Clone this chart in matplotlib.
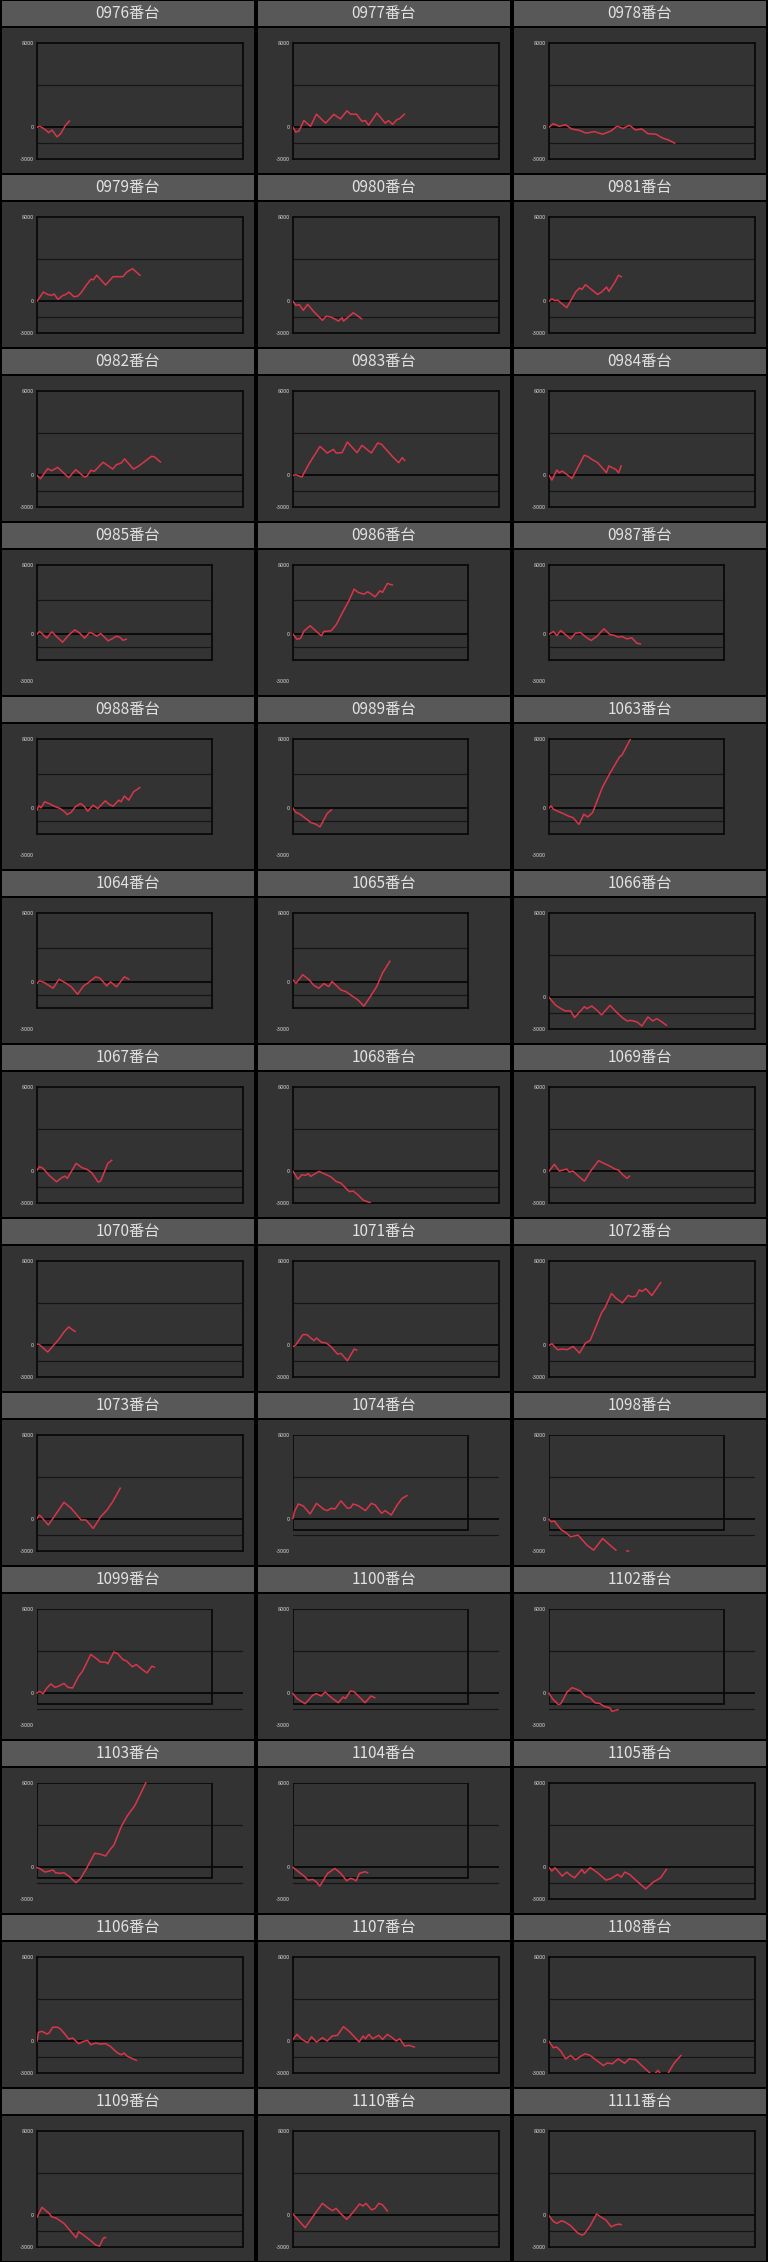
import numpy as np
import matplotlib
matplotlib.use('Agg')
import matplotlib.pyplot as plt
from matplotlib.patches import Rectangle

plt.rcParams['font.family'] = ['Noto Sans CJK JP', 'DejaVu Sans']
plt.rcParams['axes.unicode_minus'] = False

# machine numbers, in page order (3 per row)
machines = ['0976', '0977', '0978', '0979', '0980', '0981', '0982', '0983', '0984',
            '0985', '0986', '0987', '0988', '0989', '1063', '1064', '1065', '1066',
            '1067', '1068', '1069', '1070', '1071', '1072', '1073', '1074', '1098',
            '1099', '1100', '1102', '1103', '1104', '1105', '1106', '1107', '1108',
            '1109', '1110', '1111']

# how each little chart was rendered: F = normal, S = shrunk plot box, B = shrunk frame only
kinds = ['F', 'F', 'F', 'F', 'F', 'F', 'F', 'F', 'F',
         'S', 'S', 'S', 'S', 'S', 'S', 'S', 'S', 'F',
         'F', 'F', 'F', 'F', 'F', 'F', 'F', 'B', 'B',
         'B', 'B', 'B', 'B', 'B', 'F', 'F', 'F', 'F',
         'F', 'F', 'F']

# (x in % of plot width, balance)
p0976 = [(0, 0), (1.3, 100), (3.2, -100), (5.7, -500), (7.3, -250), (9.7, -900), (11.3, -650), (13.7, 150), (15.7, 600)]
p0977 = [(0, 0), (1.3, -450), (2.9, -350), (5.3, 650), (8.5, 100), (11.4, 1250), (15.8, 400), (19.8, 1230), (23, 800),
         (26.2, 1570), (27.9, 1250), (30.8, 1250), (33.5, 570), (35.1, 650), (36.7, 200), (40.7, 1350), (44.8, 400),
         (46.4, 650), (48.3, 280), (50.4, 720), (51.7, 820), (54.1, 1250)]
p0978 = [(0, 0), (2, 350), (5, 100), (8, 250), (11, -150), (15, -300), (18, -550), (22, -400), (26, -650), (30, -350),
         (33, 100), (36, -100), (39, 200), (42, -250), (45, -150), (48, -600), (52, -650), (55, -1000), (58, -1200), (61, -1500)]
p0979 = [(0, 0), (3.1, 880), (5.2, 650), (7.1, 570), (8.3, 700), (10.2, 190), (12.6, 570), (13.8, 630), (15.5, 880),
         (17.9, 440), (19.8, 500), (21.4, 820), (23.8, 1500), (26.2, 2100), (27.4, 2050), (29, 2480), (33.3, 1550),
         (36.9, 2340), (39.3, 2340), (41.7, 2340), (43.6, 2780), (46.4, 3100), (50, 2470)]
p0980 = [(0, 0), (1.4, -380), (3.1, -320), (5, -850), (7.1, -280), (10.2, -1000), (14.3, -1800), (16.2, -1400),
         (18.6, -1500), (22.1, -1870), (23.8, -1550), (24.5, -1870), (29.3, -1080), (33.3, -1650)]
p0981 = [(0, 0), (1.4, 250), (2.9, 60), (4.1, 130), (8.6, -600), (12.9, 880), (14.8, 1260), (16, 1140), (17.7, 1580),
         (23.6, 660), (25.5, 880), (27.9, 1360), (29.1, 950), (32, 1830), (33.7, 2470), (35.1, 2340)]
p0982 = [(0, 0), (1.7, -320), (5.2, 640), (7.1, 440), (10, 760), (15.4, -220), (18.8, 540), (23, -160), (24.2, -100),
         (26.1, 480), (27.8, 380), (32.1, 1240), (36.8, 600), (38.5, 1010), (40.9, 1170), (42.5, 1560), (46.8, 600),
         (49.2, 860), (55.6, 1810), (57, 1750), (59.9, 1270)]
p0983 = [(0, 0), (1.4, 60), (4.3, -160), (7.8, 1100), (13.1, 2750), (16.6, 2120), (19.7, 2470), (20.9, 2120),
         (23.8, 2150), (26.4, 3160), (31.1, 2150), (33.5, 2850), (38, 2120), (41.1, 3070), (43, 2940), (48.2, 1800),
         (51.3, 1200), (53, 1680), (54.2, 1420)]
p0984 = [(0, 0), (1.4, -450), (3.8, 510), (5, 250), (6.4, 410), (11.2, -290), (17.1, 1910), (18.8, 1790), (21.2, 1470),
         (23.6, 1210), (27.9, 250), (29, 890), (30.7, 730), (32.4, 570), (33.8, 250), (35, 890)]
p0985 = [(0, 0), (1.4, 310), (2.8, 80), (5.6, -460), (8.4, 270), (11.8, -390), (14.6, -930), (18.2, -80), (21.6, 500),
         (24.4, 120), (27.2, -460), (30, 200), (31.7, 80), (34.2, -230), (36.4, 80), (40.6, -770), (42.9, -540),
         (45.4, -230), (47.6, -390), (49, -700), (51, -580)]
p0986 = [(0, 0), (2.2, -580), (4.2, -500), (6.4, 390), (9.8, 970), (12.6, 460), (16.2, -190), (17.6, 310), (21.8, 390),
         (24.6, 1080), (28.8, 2700), (32.1, 3940), (34.9, 5210), (37.2, 4830), (40.5, 4630), (42.7, 4900), (44.7, 4630),
         (46.9, 4320), (49.7, 5020), (51.1, 4830), (53.9, 5870), (56.7, 5680)]
p0987 = [(0, 0), (2.5, 310), (4.5, -150), (6.7, 420), (12.3, -540), (15.1, 120), (17.9, 190), (21.6, -420), (24.1, -730),
         (27.2, -270), (31.4, 620), (34.7, -40), (37.5, -150), (39.5, -350), (41.7, -270), (44.5, -540), (47.3, -420),
         (50.1, -1040), (52.1, -1120)]
p0988 = [(0, -230), (1, 270), (2.3, 40), (4.4, 740), (7.6, 470), (10.5, 160), (13.3, -40), (16.2, -500), (17.1, -740),
         (19.4, -500), (21.9, 160), (24.8, 540), (26.7, 270), (29, -350), (32, 350), (34.7, -40), (39, 850), (41, 470),
         (43.4, 230), (46.7, 930), (48, 740), (49.9, 1400), (52.4, 930), (55.2, 1900), (58.7, 2370)]
p0989 = [(0, 0), (1.5, -470), (4, -700), (7.2, -1180), (10.1, -1650), (13, -1850), (15.4, -2160), (16.8, -1650),
         (19.6, -590), (21.9, -200)]
p1063 = [(0, 0), (1.1, 270), (2.5, -120), (5.3, -390), (8.1, -620), (10.9, -900), (13.7, -1090), (17.1, -1875),
         (19.9, -700), (22.1, -1020), (24.9, -510), (30.5, 2420), (34.7, 4000), (40.3, 5940), (41.7, 6140), (46.5, 8000)]
p1064 = [(0, -150), (1.4, 150), (4.2, -40), (9.2, -700), (12.6, 350), (16.8, -150), (19.6, -540), (23.2, -1400),
         (26.6, -430), (29.4, -40), (33.6, 620), (35.9, 470), (39.8, -430), (42, 40), (45.4, -540), (49.9, 620), (52.4, 350)]
p1065 = [(0, 270), (1.7, -120), (5.6, 860), (9.2, 270), (12, -390), (14.8, -700), (17.6, -160), (20.4, -510), (22.3, 80),
         (27.4, -900), (30.2, -1090), (32.4, -1400), (34.4, -1680), (37.2, -2070), (40.5, -2770), (44.1, -1680),
         (47.8, -510), (51.1, 1050), (55.3, 2420)]
p1066 = [(0, 0), (3.3, -760), (6.4, -1140), (8.1, -1290), (10.5, -1290), (12.4, -1920), (15.3, -1290), (17.2, -880),
         (18.4, -1070), (20.8, -820), (23.6, -1290), (25.5, -1670), (29.6, -760), (32.7, -1390), (35.6, -1920),
         (37.9, -2240), (39.8, -2180), (42.7, -2330), (45.1, -2710), (48, -1860), (50.4, -2240), (52.3, -2020),
         (54.2, -2240), (57, -2650)]
p1067 = [(0, 100), (1.2, 450), (2.9, 290), (5.9, -380), (9.5, -990), (11.9, -610), (13.5, -450), (14.7, -670), (19, 760),
         (21.9, 350), (24.2, 190), (26.6, -130), (29.7, -1020), (30.9, -920), (34.4, 760), (36.3, 1050)]
p1068 = [(0, 0), (2.4, -740), (4.3, -320), (6, -380), (7.4, -220), (8.6, -480), (12.6, 0), (16.2, -320), (18.5, -540),
         (20.9, -960), (23.3, -1120), (25.7, -1600), (27.3, -1920), (29.2, -1860), (31.6, -2240), (34, -2720), (37.5, -2980)]
p1069 = [(0, 0), (2.6, 670), (5, 30), (6.9, 130), (8.6, 220), (9.8, -60), (11.7, 30), (14.1, -420), (17.2, -930),
         (20, -30), (24.1, 1020), (26.5, 770), (29.1, 540), (32, 220), (33.7, 130), (35.6, -290), (37.9, -670), (39.1, -450)]
p1070 = [(0, 130), (1.2, 60), (5.2, -630), (8.3, 60), (10.7, 600), (13.1, 1270), (15.4, 1750), (17.1, 1490), (18.5, 1330)]
p1071 = [(0, -130), (1.4, 60), (4.8, 1020), (6.7, 1020), (10.2, 450), (11.4, 700), (13.8, 290), (16.2, 220), (18.5, -130),
         (21.6, -830), (23.3, -760), (26.4, -1460), (29.7, -350), (30.9, -450)]
p1072 = [(0, 0), (1.4, 160), (4.1, -410), (6.5, -350), (8.8, -410), (11.7, -100), (14.8, -730), (17.7, 220), (20, 480),
         (23.2, 1970), (25.5, 3080), (27.2, 3560), (30.3, 4920), (32.7, 4440), (35.6, 4030), (38.4, 4730), (40.3, 4600),
         (42.2, 4670), (43.9, 5270), (45.1, 5110), (47, 5370), (49.9, 4730), (54.2, 5940)]
p1073 = [(0, 100), (1.2, 410), (2.4, 160), (5.5, -540), (8.3, 250), (13.1, 1620), (16.6, 1050), (21.4, -60), (23.8, -60),
         (27.3, -860), (30.9, 250), (34, 890), (36.8, 1690), (40.4, 2960)]
p1074 = [(0, 100), (0.7, 730), (2.6, 1460), (5, 1270), (8.3, 510), (11.4, 1520), (15, 950), (16.6, 830), (18.5, 1050),
         (20.4, 990), (23.3, 1750), (26.4, 1050), (28, 1110), (29.2, 1460), (31.6, 1300), (35.2, 830), (38, 1520),
         (39.9, 1370), (43, 570), (44.7, 830), (47.7, 410), (50.6, 1370), (53, 2000), (55.3, 2250)]
p1098 = [(0, 0), (1, -220), (2.6, -160), (5.7, -950), (8.1, -1240), (10.5, -1650), (14.1, -1490), (18.4, -2440),
         (21.7, -2920), (26, -1810), (29.6, -2440), (32.5, -2920), (35, np.nan), (37.8, -3000), (38.6, -3000)]
p1099 = [(0, 30), (1.2, 190), (2.9, -30), (4.8, 510), (6.7, 890), (8.8, 570), (10.7, 700), (13.1, 950), (15, 570),
         (17.3, 510), (20.2, 1620), (22.1, 2100), (26.1, 3690), (29, 3280), (30.9, 2960), (33.3, 2960), (34.4, 2800),
         (37.3, 3920), (39.2, 3760), (41.6, 3220), (43.5, 3060), (46.3, 2520), (48.2, 2740), (51.1, 2260), (53.4, 1940),
         (55.8, 2580), (57, 2480)]
p1100 = [(0, -30), (1.9, -480), (3.8, -730), (5.9, -990), (9.5, -190), (11.3, -30), (13.7, -250), (15.6, 130),
         (19.1, -480), (22, -890), (24.3, -350), (25.5, -480), (27.9, 220), (29.6, 160), (35, -890), (37.8, -250), (39.7, -410)]
p1102 = [(0, 0), (1.7, -510), (4.5, -1060), (5.7, -990), (8.8, 130), (11.2, 540), (13.5, 380), (15.2, 220), (17.6, -260),
         (20, -420), (22.3, -900), (24.7, -960), (26.6, -1220), (29.5, -1380), (30.6, -1700), (33.5, -1540)]
p1103 = [(0, -30), (1.2, -100), (4, -450), (5.9, -350), (7.8, -250), (9, -510), (11.4, -570), (13.1, -510), (15.4, -830),
         (19, -1460), (21.4, -990), (23.8, -190), (28, 1340), (30.9, 1240), (33.3, 1080), (35.6, 1720), (37.3, 2100),
         (41.1, 3950), (43.9, 4900), (47.5, 5860), (52.8, 8000)]
p1104 = [(0, 0), (3.1, -480), (5.4, -830), (7.3, -1210), (9.7, -1150), (11.3, -1370), (13, -1780), (16.8, -570),
         (20.3, -100), (23.2, -570), (26, -1270), (27.9, -1050), (29.1, -1110), (30.7, -1270), (32.2, -570), (35, -410),
         (36.2, -510)]
p1105 = [(0, -30), (1.4, -350), (2.9, -30), (6.4, -830), (8.6, -450), (10.5, -760), (12.4, -990), (16, -190), (17.2, -570),
         (20, -30), (23.2, -450), (27.7, -1210), (30.3, -1050), (33.2, -670), (35.1, -920), (36.8, -450), (39.1, -670),
         (42.7, -1310), (47, -2040), (50.6, -1400), (54.2, -990), (57, -190)]
p1106 = [(0, 0), (0.7, 850), (2.4, 950), (4.8, 700), (5.9, 790), (7.6, 1340), (10, 1340), (11.4, 1170), (13.1, 790),
         (15.4, 220), (17.3, 320), (20.2, -220), (22.6, 0), (24.5, 90), (26.1, -320), (28.5, -160), (30.4, -250),
         (33.3, -220), (35.6, -470), (37.3, -790), (39.2, -1110), (40.9, -1270), (42.3, -1110), (43.9, -1420), (48.2, -1800)]
p1107 = [(0, 190), (1.9, 670), (4.3, 190), (7.1, -130), (9, 440), (11.4, -60), (14.3, 350), (16.6, 30), (19, 510),
         (21.6, 570), (24.5, 1400), (27.6, 890), (32.1, -60), (34, 510), (35.2, 250), (36.8, 670), (38.7, 250), (41.6, 570),
         (43.5, 190), (45.8, 670), (48.2, 350), (50.1, 30), (51.8, 250), (54.2, -440), (56.5, -380), (58.9, -540)]
p1108 = [(0, 0), (2.1, -600), (3.8, -540), (5.7, -920), (8.1, -1660), (10.5, -1340), (12.9, -1750), (15.2, -1430),
         (17.6, -1180), (20, -1340), (23.1, -1810), (26.4, -2290), (28.3, -2040), (30.7, -2130), (33.6, -1660),
         (36.7, -2070), (39, -1660), (42.1, -1750), (45, -2290), (48.6, -2930), (50.5, -3250), (52.9, -2750),
         (55, -3300), (57, -3300), (58.1, -2930), (60.5, -2130), (64, -1340)]
p1109 = [(0, -190), (2.4, 760), (5.9, 190), (7.1, -130), (9.5, -280), (13.1, -760), (19, -2120), (20.2, -1550),
         (22.6, -1870), (26.1, -2400), (28.5, -2810), (30.4, -2910), (32.1, -2180), (33.3, -2090)]
p1110 = [(0, 130), (1.9, -290), (5.9, -1170), (10.2, 30), (14.3, 1140), (17.3, 670), (19.2, 440), (20.9, 670), (23.3, 130),
         (26.1, -380), (28.7, 190), (32.3, 1080), (34, 890), (35.4, 1140), (38.2, 510), (39.9, 670), (41.6, 1140),
         (43.5, 990), (45.8, 410)]
p1111 = [(0, -30), (2.1, -570), (3.8, -760), (6.2, -510), (8.1, -670), (10.5, -980), (14, -1680), (16, -1870),
         (17.1, -1780), (20, -980), (23.1, 130), (25.5, -190), (27.6, -440), (30.2, -1080), (32.4, -890), (34.3, -830),
         (35, -890)]

series = [p0976, p0977, p0978, p0979, p0980, p0981, p0982, p0983, p0984,
          p0985, p0986, p0987, p0988, p0989, p1063, p1064, p1065, p1066,
          p1067, p1068, p1069, p1070, p1071, p1072, p1073, p1074, p1098,
          p1099, p1100, p1102, p1103, p1104, p1105, p1106, p1107, p1108,
          p1109, p1110, p1111]

yticks = [-3000, 0, 8000]
ytick_labels = ['-3000', '0', '8000']
grid_y = [4000, -1500]

W, H = 768, 2262
TITLE_BG = '#585858'
BODY_BG = '#333333'
RED = '#d8364a'
LABEL = '#d4d4d4'
SW, SH = 0.85, 0.82   # size of the shrunk plot box


def fbox(x, y, w, h):
    return [x / W, 1 - (y + h) / H, w / W, h / H]


def plain(ax):
    ax.set_xticks([])
    ax.set_yticks([])
    for s in ax.spines.values():
        s.set_visible(False)


fig = plt.figure(figsize=(W / 100, H / 100), dpi=100, facecolor='black')

for i, (m, pts, kind) in enumerate(zip(machines, series, kinds)):
    r, c = divmod(i, 3)
    px = c * 256 + 2
    py = r * 174

    tax = fig.add_axes(fbox(px, py + 1, 252, 25))
    tax.set_facecolor(TITLE_BG)
    plain(tax)
    tax.text(0.5, 0.5, '%s番台' % m, ha='center', va='center', fontsize=11,
             color='#e2e2e2', transform=tax.transAxes)

    bax = fig.add_axes(fbox(px, py + 28, 252, 145))
    bax.set_facecolor(BODY_BG)
    plain(bax)

    rx, ry, rw, rh = px + 35, py + 43, 206, 116
    full = fig.add_axes(fbox(rx, ry, rw, rh))
    full.set_xlim(0, 100)
    full.set_ylim(-3000, 8000)
    full.patch.set_visible(False)
    for s in full.spines.values():
        s.set_visible(False)
    full.set_xticks([])
    full.tick_params(axis='y', length=0, pad=2, labelsize=4, labelcolor=LABEL)

    if kind == 'S':
        ax = fig.add_axes(fbox(rx, ry, rw * SW, rh * SH))
        ax.set_xlim(0, 100)
        ax.set_ylim(-3000, 8000)
        ax.set_xticks([])
        ax.set_yticks([0], ['0'])
        ax.tick_params(axis='y', length=0, pad=2, labelsize=4, labelcolor=LABEL)
        full.set_yticks([yticks[0], yticks[2]], [ytick_labels[0], ytick_labels[2]])
    else:
        ax = full
        ax.set_yticks(yticks, ytick_labels)

    xs, ys = zip(*pts)
    if kind == 'B':
        for g in grid_y:
            ax.axhline(g, color='#161616', lw=0.9, zorder=1)
        ax.axhline(0, color='#0a0a0a', lw=1.4, zorder=1)
        ax.add_patch(Rectangle((0, 1 - SH), SW, SH, transform=ax.transAxes, fill=False,
                               edgecolor='#0a0a0a', lw=1.3, zorder=2))
        ax.plot(xs, ys, color=RED, lw=1.1, zorder=3, clip_on=False)
    else:
        ax.set_facecolor(BODY_BG)
        ax.patch.set_visible(True)
        for s in ax.spines.values():
            s.set_visible(True)
            s.set_color('#0a0a0a')
            s.set_linewidth(1.3)
        for g in grid_y:
            ax.axhline(g, color='#161616', lw=0.9, zorder=1)
        ax.axhline(0, color='#0a0a0a', lw=1.4, zorder=1)
        ax.plot(xs, ys, color=RED, lw=1.1, zorder=3)

fig.savefig('out.png', dpi=100, facecolor='black')
